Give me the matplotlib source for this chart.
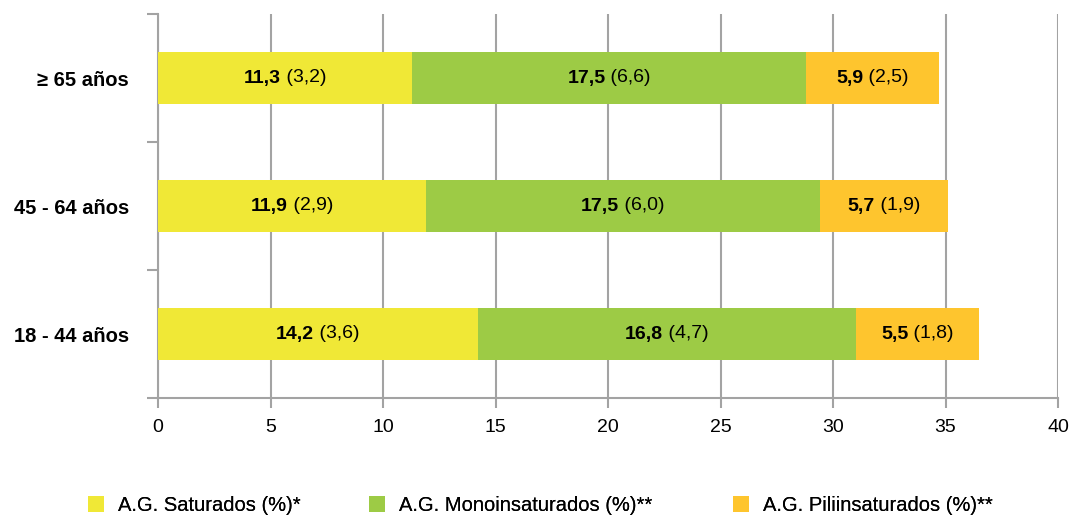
import matplotlib.pyplot as plt
from matplotlib.patches import Patch
from matplotlib import transforms

plt.rcParams['font.family'] = ['Liberation Sans', 'DejaVu Sans']

groups = ["18 - 44 años", "45 - 64 años", "≥ 65 años"]
saturados = [14.2, 11.9, 11.3]
saturados_sd = [3.6, 2.9, 3.2]
mono = [16.8, 17.5, 17.5]
mono_sd = [4.7, 6.0, 6.6]
poli = [5.5, 5.7, 5.9]
poli_sd = [1.8, 1.9, 2.5]

series_names = ["A.G. Saturados (%)*", "A.G. Monoinsaturados (%)**", "A.G. Piliinsaturados (%)**"]
colors = ["#F0E836", "#9DCB45", "#FEC52E"]
grid_col = "#A3A3A3"


def fmt(v):
    return f"{v:.1f}".replace(".", ",")


fig = plt.figure(figsize=(10.74, 5.17), dpi=100)
ax = fig.add_axes([158 / 1074, 119 / 517, 900 / 1074, 384 / 517])

y = list(range(len(groups)))
lefts = [0.0] * len(groups)
segments = []
for vals, sds, col in zip([saturados, mono, poli], [saturados_sd, mono_sd, poli_sd], colors):
    ax.barh(y, vals, left=lefts, height=0.4, color=col, zorder=3)
    for i in y:
        segments.append((lefts[i] + vals[i] / 2, i, vals[i], sds[i]))
    lefts = [l + v for l, v in zip(lefts, vals)]

ax.set_xlim(0, 40)
ax.set_ylim(-0.5, 2.5)
ax.set_xticks(range(0, 45, 5))
ax.set_yticks(y)
ax.set_yticklabels(groups, fontsize=14.5, fontweight="bold")
ax.set_yticks([-0.5, 0.5, 1.5, 2.5], minor=True)
ax.tick_params(axis="y", which="major", length=0, pad=21)
ax.tick_params(axis="y", which="minor", length=8, width=1.5, color=grid_col)
ax.tick_params(axis="x", length=7, width=1.5, color=grid_col, labelsize=14, pad=8)
ax.grid(axis="x", color=grid_col, linewidth=1.5, zorder=0)
ax.set_axisbelow(True)
for s in ["top", "right"]:
    ax.spines[s].set_visible(False)
for s in ["left", "bottom"]:
    ax.spines[s].set_color(grid_col)
    ax.spines[s].set_linewidth(1.5)

# bold mean + plain "(sd)", centred together on each segment
fig.canvas.draw()
renderer = fig.canvas.get_renderer()
for xc, yc, v, sd in segments:
    t1 = ax.text(xc, yc, fmt(v), fontsize=14, fontweight="bold", ha="left", va="center", zorder=4)
    t2 = ax.text(xc, yc, " (" + fmt(sd) + ")", fontsize=14, ha="left", va="center", zorder=4)
    w1 = t1.get_window_extent(renderer).width
    w2 = t2.get_window_extent(renderer).width
    start = -(w1 + w2) / 2
    t1.set_transform(ax.transData + transforms.ScaledTranslation(start / 100, 0, fig.dpi_scale_trans))
    t2.set_transform(ax.transData + transforms.ScaledTranslation((start + w1) / 100, 0, fig.dpi_scale_trans))

# one legend per series so each key sits at its own spot
legend_x = [88, 369, 733]
for name, col, lx in zip(series_names, colors, legend_x):
    leg = fig.legend([Patch(facecolor=col, edgecolor="none")], [name], loc="center left",
                     bbox_to_anchor=(lx / 1074, 11.5 / 517), frameon=False, fontsize=14.5,
                     handlelength=0.8, handleheight=0.8, handletextpad=0.7, borderpad=0,
                     borderaxespad=0)
    fig.add_artist(leg)

fig.savefig("out.png", dpi=100)
